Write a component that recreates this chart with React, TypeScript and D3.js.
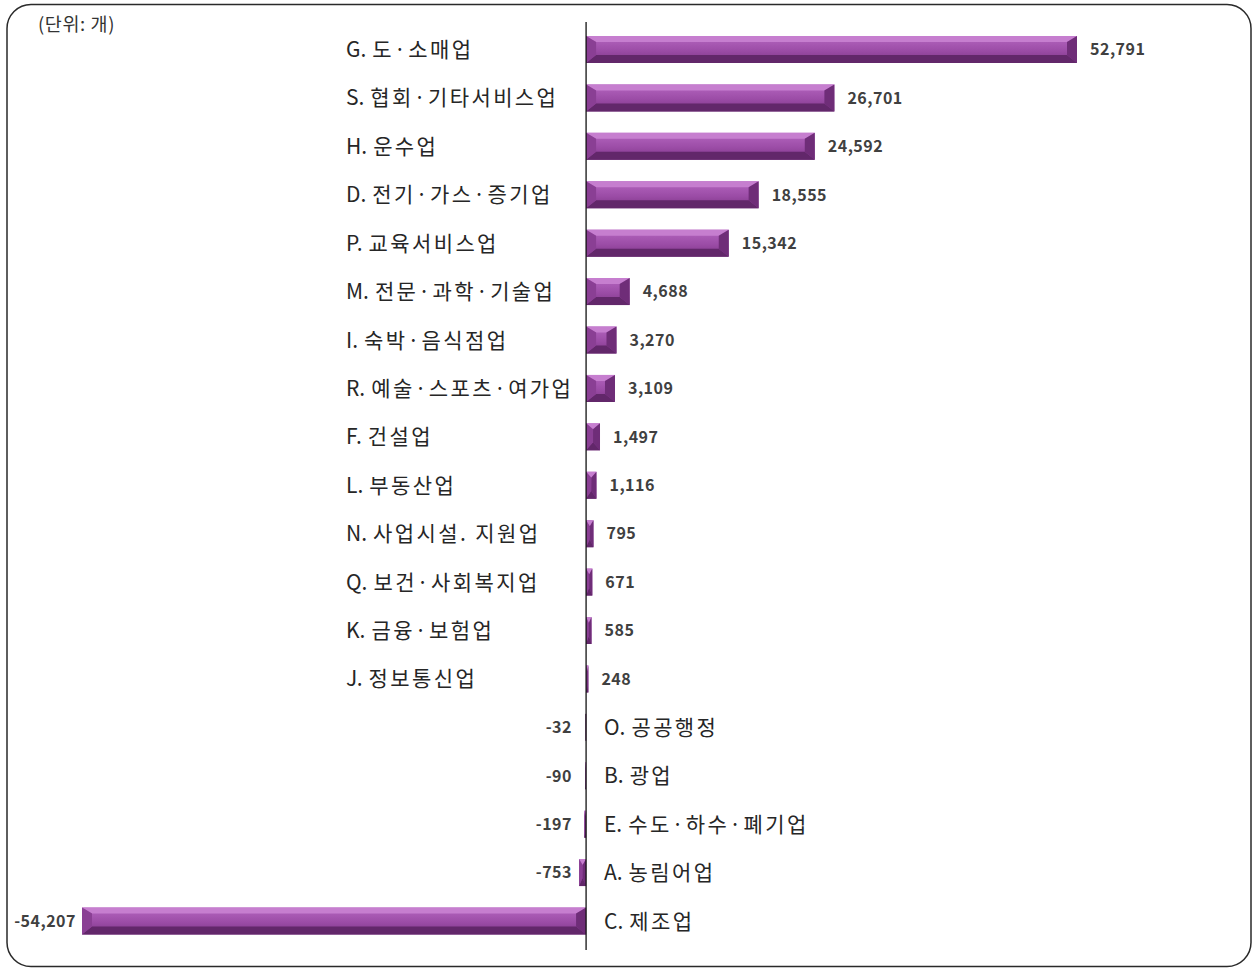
import React from "react";
import * as d3 from "d3";

const categories = [
  "G. 도·소매업",
  "S. 협회·기타서비스업",
  "H. 운수업",
  "D. 전기·가스·증기업",
  "P. 교육서비스업",
  "M. 전문·과학·기술업",
  "I. 숙박·음식점업",
  "R. 예술·스포츠·여가업",
  "F. 건설업",
  "L. 부동산업",
  "N. 사업시설. 지원업",
  "Q. 보건·사회복지업",
  "K. 금융·보험업",
  "J. 정보통신업",
  "O. 공공행정",
  "B. 광업",
  "E. 수도·하수·폐기업",
  "A. 농림어업",
  "C. 제조업",
];
const values = [
  52791, 26701, 24592, 18555, 15342, 4688, 3270, 3109, 1497, 1116, 795, 671,
  585, 248, -32, -90, -197, -753, -54207,
];
const unitLabel = "(단위: 개)";

const W = 1253;
const H = 969;
const fmt = d3.formatLocale({
  decimal: ".",
  thousands: ",",
  grouping: [3],
  currency: ["", ""],
  minus: "-",
}).format(",");

function Label({ text, x, y }: { text: string; x: number; y: number }) {
  const m = text.match(/^([A-Z]\.)\s(.*)$/);
  const prefix = m ? m[1] : "";
  const rest = m ? m[2] : text;
  return (
    <text x={x} y={y} dy="0.36em" fontSize={21} fill="#262626">
      <tspan>{prefix}</tspan>
      <tspan dx={6} letterSpacing={2.4}>
        {rest}
      </tspan>
    </text>
  );
}

export default function App() {
  const x = d3.scaleLinear().domain([-54207, 52791]).range([82, 1077]);
  const y = d3.scalePoint<string>().domain(categories).range([49.5, 921]);
  const barH = 27;
  const x0 = x(0);

  const bars = categories.map((c, i) => {
    const v = values[i];
    const xa = Math.min(x(v), x0);
    const xb = Math.max(x(v), x0);
    const w = xb - xa;
    const cy = y(c)!;
    const y0 = cy - barH / 2;
    const y1 = cy + barH / 2;
    const bh = Math.min(10, w / 2);
    const bt = Math.min(6, barH / 2);
    const bb = Math.min(8, barH / 2);
    const pts = (arr: number[][]) => arr.map((p) => p.join(",")).join(" ");
    return (
      <g key={c}>
        {w > 0.5 && (
          <g>
            <rect x={xa} y={y0} width={w} height={barH} fill="url(#mid)" />
            <polygon
              points={pts([[xa, y0], [xb, y0], [xb - bh, y0 + bt], [xa + bh, y0 + bt]])}
              fill="#c67ecf"
            />
            <polygon
              points={pts([[xa, y1], [xb, y1], [xb - bh, y1 - bb], [xa + bh, y1 - bb]])}
              fill="#62276a"
            />
            <polygon
              points={pts([[xa, y0], [xa + bh, y0 + bt], [xa + bh, y1 - bb], [xa, y1]])}
              fill="#8a3f94"
            />
            <polygon
              points={pts([[xb, y0], [xb - bh, y0 + bt], [xb - bh, y1 - bb], [xb, y1]])}
              fill="#6f2d78"
            />
          </g>
        )}
        {w <= 0.5 && (
          <rect x={xa - 0.5} y={y0} width={1} height={barH} fill="#5e2464" />
        )}
        {v >= 0 ? (
          <>
            <Label text={c} x={346} y={cy} />
            <text
              x={xb + 13}
              y={cy}
              dy="0.36em"
              fontSize={16}
              letterSpacing={0.5}
              fontWeight="bold"
              fill="#404040"
            >
              {fmt(v)}
            </text>
          </>
        ) : (
          <>
            <Label text={c} x={604} y={cy} />
            <text
              x={Math.min(xa - 6, 572)}
              y={cy}
              dy="0.36em"
              fontSize={16}
              letterSpacing={0.5}
              fontWeight="bold"
              fill="#404040"
              textAnchor="end"
            >
              {fmt(v)}
            </text>
          </>
        )}
      </g>
    );
  });

  return (
    <svg
      width={W}
      height={H}
      style={{ position: "absolute", left: 0, top: 0, background: "#fff" }}
      fontFamily="'Noto Sans CJK KR', 'Noto Sans', sans-serif"
    >
      <defs>
        <linearGradient id="mid" x1="0" y1="0" x2="0" y2="1">
          <stop offset="0%" stopColor="#b566c0" />
          <stop offset="55%" stopColor="#9b4ca6" />
          <stop offset="100%" stopColor="#7d3587" />
        </linearGradient>
      </defs>
      <rect
        x={7}
        y={4.5}
        width={1244}
        height={962}
        rx={24}
        ry={24}
        fill="#fff"
        stroke="#2a2a2a"
        strokeWidth={1.5}
      />
      <text x={38} y={24} dy="0.36em" fontSize={18.5} letterSpacing={0.6} fill="#333">
        {unitLabel}
      </text>
      {bars}
      <line x1={x0} x2={x0} y1={22} y2={950} stroke="#111" strokeWidth={1.3} />
    </svg>
  );
}
